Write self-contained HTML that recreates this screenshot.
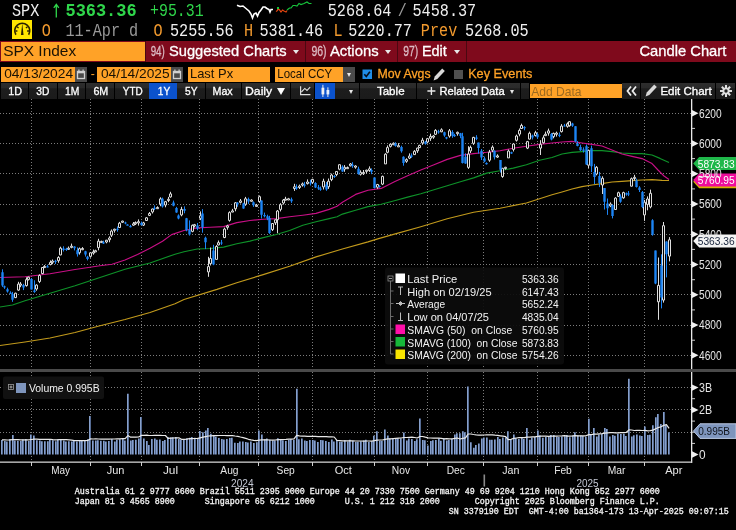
<!DOCTYPE html><html><head><meta charset="utf-8"><title>SPX Index</title><style>
html,body{margin:0;padding:0;background:#000;}
body{width:736px;height:530px;overflow:hidden;position:relative;font-family:"Liberation Sans",sans-serif;color:#fff;}
.a{position:absolute;}
.bar{position:absolute;left:0;top:41px;width:736px;height:21px;background:#7f0a1c;}
.sep{position:absolute;top:41px;width:1px;height:21px;background:#4a0811;}
.tri{position:absolute;width:0;height:0;border-left:3px solid transparent;border-right:3px solid transparent;border-top:4px solid #e8e8e8;}
.ob{position:absolute;background:#ffa227;}
.gb{position:absolute;background:#4a4a4a;}
.pb{position:absolute;top:83px;height:16px;background:linear-gradient(#2d2d2d 0,#2a2a2a 30%,#1d1d1d 36%,#1b1b1b 100%);}
.pb.sel{background:#0b52cc;}
text{white-space:pre;}
</style></head><body>
<svg class="a" style="left:0;top:0" width="330" height="22" viewBox="0 0 330 22"><path d="M56.3 17.5V4.5M53.8 7.8l2.5-3.4l2.5 3.4" fill="none" stroke="#2fd64b" stroke-width="1.3"/><polyline fill="none" stroke="#fff" stroke-width="1.6" points="237,5.3 240,6.5 243,6 246,8.5 249,11 251,14 252.5,18 254,14 256,13 257.5,16 259,12.5 261,10 263,7 265,7 267,8.5 269,9.5 270,12 271,9.5 273,9.5"/><polyline fill="none" stroke="#e0430f" stroke-width="1.2" points="276,11.5 277.5,10.5 278,8.5 279.5,10 281,12 282.5,10 284,11 286,12 287,10.5"/><polyline fill="none" stroke="#17c43c" stroke-width="1.2" points="287,10 289.5,8 291,8 293,5.5 295,5.5 297,6 299,3.5 301,4.5 304,3.5 307,2 309,3.5 311.5,3.5"/><rect x="277" y="7" width="2" height="2" fill="#17c43c"/></svg>
<div class="a" style="left:12px;top:20px;width:20px;height:19px;background:#ffe600"></div>
<svg class="a" style="left:12px;top:20px" width="20" height="19" viewBox="0 0 20 19"><path d="M3.9 14.7A7.5 7.5 0 1 1 16.6 14.7" fill="none" stroke="#2a2200" stroke-width="1.6"/><path d="M10.25 3.4L11.55 14.9H8.95z" fill="#2a2200"/><path d="M5 6.8l1.6 1.3M15.5 6.8l-1.6 1.3M3.4 11h2M17.1 11h-2" stroke="#2a2200" stroke-width="1.3"/></svg>
<div class="bar"></div>
<div class="ob" style="left:1px;top:42px;width:143.5px;height:18.6px"></div>
<div class="sep" style="left:144.5px"></div>
<div class="sep" style="left:304.5px"></div>
<div class="sep" style="left:397px"></div>
<div class="sep" style="left:466px"></div>
<div class="tri" style="left:293px;top:50px"></div>
<div class="tri" style="left:385px;top:50px"></div>
<div class="tri" style="left:453.7px;top:50px"></div>
<div class="ob" style="left:1px;top:67px;width:74px;height:15px"></div>
<svg class="a" style="left:75px;top:67px" width="12" height="15" viewBox="0 0 12 15"><rect x="0" y="0" width="12" height="15" fill="#4a4a4a"/><rect x="2.5" y="4.5" width="7" height="7" fill="none" stroke="#d0d0d0" stroke-width="1.3"/><rect x="2" y="4" width="8" height="2.3" fill="#d0d0d0"/><rect x="3.3" y="2.5" width="1.2" height="2" fill="#d0d0d0"/><rect x="7.5" y="2.5" width="1.2" height="2" fill="#d0d0d0"/></svg>
<div class="ob" style="left:96.5px;top:67px;width:74.5px;height:15px"></div>
<svg class="a" style="left:171px;top:67px" width="12" height="15" viewBox="0 0 12 15"><rect x="0" y="0" width="12" height="15" fill="#4a4a4a"/><rect x="2.5" y="4.5" width="7" height="7" fill="none" stroke="#d0d0d0" stroke-width="1.3"/><rect x="2" y="4" width="8" height="2.3" fill="#d0d0d0"/><rect x="3.3" y="2.5" width="1.2" height="2" fill="#d0d0d0"/><rect x="7.5" y="2.5" width="1.2" height="2" fill="#d0d0d0"/></svg>
<div class="ob" style="left:187.5px;top:67px;width:82.5px;height:15px"></div>
<div class="ob" style="left:275px;top:67px;width:68px;height:15px"></div>
<div class="gb" style="left:343px;top:67px;width:12px;height:15px"></div><div class="tri" style="left:346.5px;top:73px;border-left-width:2.5px;border-right-width:2.5px"></div>
<svg class="a" style="left:362px;top:69px" width="11" height="11" viewBox="0 0 11 11"><rect x="0.5" y="0.5" width="9.5" height="9.5" fill="#1f8de8"/><path d="M2.3 5.2l2 2.3l3.6-4.8" fill="none" stroke="#08101c" stroke-width="1.6"/></svg>
<svg class="a" style="left:432px;top:67px" width="14" height="15" viewBox="0 0 14 15"><path d="M1.6 13.4l1.1-3.9l7.5-8l2.6 2.6l-7.5 7.9z" fill="#d8d8d8"/></svg>
<div class="a" style="left:454px;top:70px;width:9px;height:9px;background:#505050"></div>
<div class="pb" style="left:1px;width:27px"></div>
<div class="pb" style="left:29px;width:27.5px"></div>
<div class="pb" style="left:57.5px;width:27.5px"></div>
<div class="pb" style="left:86px;width:28px"></div>
<div class="pb" style="left:115px;width:34px"></div>
<div class="pb" style="left:177px;width:28px"></div>
<div class="pb" style="left:206px;width:34.5px"></div>
<div class="pb" style="left:241.5px;width:48.5px"></div>
<div class="pb" style="left:291px;width:23px"></div>
<div class="pb" style="left:335px;width:24px"></div>
<div class="pb" style="left:360px;width:56px"></div>
<div class="pb" style="left:417px;width:103px"></div>
<div class="pb" style="left:521px;width:8px"></div>
<div class="pb" style="left:622px;width:18px"></div>
<div class="pb" style="left:641px;width:74px"></div>
<div class="pb" style="left:716px;width:19px"></div>
<div class="pb sel" style="left:149px;width:28px"></div>
<div class="pb sel" style="left:314.5px;width:20.5px"></div>
<div class="tri" style="left:277.2px;top:87.5px;border-left-width:4px;border-right-width:4px;border-top-width:7px;border-top-color:#fff"></div>
<div class="ob" style="left:529.5px;top:84px;width:92.29999999999995px;height:14px"></div>
<svg class="a" style="left:291px;top:83px" width="23" height="16" viewBox="0 0 23 16"><path d="M9.6 3.3v8.3h9.8" fill="none" stroke="#e0e0e0" stroke-width="1.2"/><path d="M10.4 9l3.4-3.6l2.2 2l3.2-3.2" fill="none" stroke="#e0e0e0" stroke-width="1.1"/></svg>
<svg class="a" style="left:314.5px;top:83px" width="21" height="16" viewBox="0 0 21 16"><path d="M7.9 1.8v12.2M12.9 4.3v9.7" stroke="#e8e8e8" stroke-width="1"/><rect x="6.5" y="4.7" width="2.8" height="6.7" fill="#f0f0f0"/><rect x="11.5" y="7" width="2.8" height="4.4" fill="#e4eefc"/></svg>
<div class="tri" style="left:348.5px;top:90px;border-left-width:2.5px;border-right-width:2.5px"></div>
<svg class="a" style="left:426px;top:86px" width="10" height="10" viewBox="0 0 10 10"><path d="M5.4 1v8M1.4 5h8" stroke="#e8e8e8" stroke-width="1.4"/></svg>
<div class="tri" style="left:510px;top:90px;border-left-width:2.5px;border-right-width:2.5px"></div>
<svg class="a" style="left:625px;top:85px" width="13" height="12" viewBox="0 0 13 12"><path d="M6 1.5L2.5 6L6 10.5M11 1.5L7.5 6L11 10.5" fill="none" stroke="#ececec" stroke-width="1.8"/></svg>
<svg class="a" style="left:644px;top:83.3px" width="14" height="15" viewBox="0 0 14 15"><path d="M1.6 13.4l1.1-3.9l7.5-8l2.6 2.6l-7.5 7.9z" fill="#d8d8d8"/></svg>
<svg class="a" style="left:719px;top:84px" width="14" height="14" viewBox="0 0 14 14"><g stroke="#e0e0e0" stroke-width="2"><path d="M7 1v12M1 7h12M2.8 2.8l8.4 8.4M11.2 2.8l-8.4 8.4"/></g><circle cx="7" cy="7" r="3.6" fill="#e0e0e0"/><circle cx="7" cy="7" r="1.7" fill="#222"/></svg>
<svg class="a" style="left:0;top:0" width="736" height="530" viewBox="0 0 736 530">
<line x1="0" x2="691" y1="355.5" y2="355.5" stroke="#7c7c7c" stroke-width="1" stroke-dasharray="1 2" shape-rendering="crispEdges"/>
<line x1="0" x2="691" y1="325.5" y2="325.5" stroke="#7c7c7c" stroke-width="1" stroke-dasharray="1 2" shape-rendering="crispEdges"/>
<line x1="0" x2="691" y1="294.5" y2="294.5" stroke="#7c7c7c" stroke-width="1" stroke-dasharray="1 2" shape-rendering="crispEdges"/>
<line x1="0" x2="691" y1="264.5" y2="264.5" stroke="#7c7c7c" stroke-width="1" stroke-dasharray="1 2" shape-rendering="crispEdges"/>
<line x1="0" x2="691" y1="234.5" y2="234.5" stroke="#7c7c7c" stroke-width="1" stroke-dasharray="1 2" shape-rendering="crispEdges"/>
<line x1="0" x2="691" y1="204.5" y2="204.5" stroke="#7c7c7c" stroke-width="1" stroke-dasharray="1 2" shape-rendering="crispEdges"/>
<line x1="0" x2="691" y1="173.5" y2="173.5" stroke="#7c7c7c" stroke-width="1" stroke-dasharray="1 2" shape-rendering="crispEdges"/>
<line x1="0" x2="691" y1="143.5" y2="143.5" stroke="#7c7c7c" stroke-width="1" stroke-dasharray="1 2" shape-rendering="crispEdges"/>
<line x1="0" x2="691" y1="113.5" y2="113.5" stroke="#7c7c7c" stroke-width="1" stroke-dasharray="1 2" shape-rendering="crispEdges"/>
<line x1="0" x2="691" y1="432.5" y2="432.5" stroke="#7c7c7c" stroke-width="1" stroke-dasharray="1 2" shape-rendering="crispEdges"/>
<line x1="0" x2="691" y1="409.5" y2="409.5" stroke="#7c7c7c" stroke-width="1" stroke-dasharray="1 2" shape-rendering="crispEdges"/>
<line x1="0" x2="691" y1="387.5" y2="387.5" stroke="#7c7c7c" stroke-width="1" stroke-dasharray="1 2" shape-rendering="crispEdges"/>
<line x1="31.5" x2="31.5" y1="99" y2="462" stroke="#7c7c7c" stroke-width="1" stroke-dasharray="1 2" shape-rendering="crispEdges"/>
<line x1="90.5" x2="90.5" y1="99" y2="462" stroke="#7c7c7c" stroke-width="1" stroke-dasharray="1 2" shape-rendering="crispEdges"/>
<line x1="141.5" x2="141.5" y1="99" y2="462" stroke="#7c7c7c" stroke-width="1" stroke-dasharray="1 2" shape-rendering="crispEdges"/>
<line x1="199.5" x2="199.5" y1="99" y2="462" stroke="#7c7c7c" stroke-width="1" stroke-dasharray="1 2" shape-rendering="crispEdges"/>
<line x1="258.5" x2="258.5" y1="99" y2="462" stroke="#7c7c7c" stroke-width="1" stroke-dasharray="1 2" shape-rendering="crispEdges"/>
<line x1="312.5" x2="312.5" y1="99" y2="462" stroke="#7c7c7c" stroke-width="1" stroke-dasharray="1 2" shape-rendering="crispEdges"/>
<line x1="374.5" x2="374.5" y1="99" y2="462" stroke="#7c7c7c" stroke-width="1" stroke-dasharray="1 2" shape-rendering="crispEdges"/>
<line x1="427.5" x2="427.5" y1="99" y2="462" stroke="#7c7c7c" stroke-width="1" stroke-dasharray="1 2" shape-rendering="crispEdges"/>
<line x1="483.5" x2="483.5" y1="99" y2="462" stroke="#7c7c7c" stroke-width="1" stroke-dasharray="1 2" shape-rendering="crispEdges"/>
<line x1="537.5" x2="537.5" y1="99" y2="462" stroke="#7c7c7c" stroke-width="1" stroke-dasharray="1 2" shape-rendering="crispEdges"/>
<line x1="588.5" x2="588.5" y1="99" y2="462" stroke="#7c7c7c" stroke-width="1" stroke-dasharray="1 2" shape-rendering="crispEdges"/>
<line x1="644.5" x2="644.5" y1="99" y2="462" stroke="#7c7c7c" stroke-width="1" stroke-dasharray="1 2" shape-rendering="crispEdges"/>
<polyline fill="none" stroke="#c29a1c" stroke-width="1.15" stroke-linejoin="round" points="0.0,345.5 25.0,342.0 50.0,338.0 75.0,332.5 100.0,325.8 125.0,319.5 150.0,312.5 175.0,303.8 184.0,299.5 217.0,289.4 236.8,282.8 263.2,274.6 289.6,266.2 316.0,256.9 342.4,249.0 368.0,241.9 378.6,238.6 394.4,234.1 420.8,226.7 447.2,218.8 473.6,212.2 500.0,208.2 526.4,203.0 552.0,194.8 562.0,192.0 572.0,189.0 582.0,186.6 592.0,185.0 602.0,183.6 612.0,182.0 622.0,181.4 632.0,180.6 642.0,180.0 652.0,179.6 662.0,180.4 669.0,180.5"/>
<polyline fill="none" stroke="#0e9229" stroke-width="1.15" stroke-linejoin="round" points="0.0,307.0 12.5,305.0 25.0,300.8 50.0,293.2 75.0,285.8 100.0,277.5 125.0,269.2 150.0,263.0 175.0,254.2 184.0,251.7 197.2,249.0 210.4,248.5 223.6,247.1 236.8,243.7 250.0,241.1 263.2,237.6 276.4,234.5 289.6,230.5 302.8,225.2 316.0,221.8 329.2,218.6 337.1,216.8 342.4,214.1 355.6,210.2 368.0,206.6 381.2,204.3 394.4,200.8 407.6,197.1 420.8,193.7 434.0,189.8 447.2,185.8 460.4,181.8 473.6,177.9 486.8,173.1 500.0,170.7 513.2,168.1 526.4,164.7 539.6,160.2 552.0,157.5 562.0,154.0 572.0,152.4 582.0,151.6 592.0,150.6 602.0,150.6 612.0,151.6 622.0,153.0 632.0,153.6 642.0,153.6 652.0,155.0 660.0,158.4 669.0,162.5"/>
<polyline fill="none" stroke="#c80f86" stroke-width="1.15" stroke-linejoin="round" points="0.0,277.5 25.0,276.8 50.0,273.8 75.0,269.5 100.0,265.8 112.0,264.2 125.0,260.0 137.5,254.5 150.0,248.2 162.5,241.2 171.6,234.6 184.0,230.5 197.2,227.9 210.4,227.3 223.6,226.6 236.8,222.6 250.0,220.5 263.2,219.2 276.4,218.6 289.6,216.8 302.8,215.2 316.0,213.4 329.2,209.4 337.1,206.2 342.4,202.3 355.6,194.4 368.0,190.3 381.2,188.4 394.4,181.8 407.6,175.8 420.8,170.0 434.0,164.7 447.2,159.4 460.4,155.4 473.6,153.6 486.8,152.3 500.0,150.7 513.2,148.3 526.4,146.2 539.6,144.4 552.0,143.0 562.0,142.0 572.0,141.4 582.0,143.0 592.0,144.4 602.0,146.0 612.0,150.0 622.0,154.0 632.0,156.4 642.0,158.6 652.0,163.6 658.0,170.0 664.0,176.0 669.0,179.5"/>
<path d="M15.5 292.7V298.1M18.5 281.8V290.8M20.5 282.1V287.2M26.5 277.3V286.6M28.5 276.6V280.5M36.5 284.3V290.7M39.5 274.3V283.1M42.5 267.0V274.3M44.5 265.1V267.8M50.5 260.4V265.4M52.5 259.5V264.2M58.5 256.2V262.8M60.5 246.7V255.3M68.5 246.5V249.9M71.5 243.6V248.3M79.5 247.5V254.6M82.5 247.1V250.2M90.5 252.3V257.7M93.5 249.5V254.7M95.5 249.7V252.1M98.5 238.8V250.3M101.5 240.7V242.8M106.5 239.9V243.3M109.5 236.3V242.3M111.5 229.5V237.0M114.5 228.7V232.6M119.5 221.9V228.0M122.5 220.7V222.7M133.5 222.0V225.9M135.5 221.4V225.0M138.5 219.4V225.6M143.5 221.8V226.0M146.5 217.1V220.9M149.5 212.0V216.1M152.5 208.6V213.5M157.5 206.3V209.0M160.5 197.3V206.2M165.5 200.9V207.3M168.5 196.9V202.2M170.5 191.8V197.7M181.5 206.8V216.3M192.5 224.5V232.3M194.5 223.9V227.5M200.5 211.4V220.1M208.5 256.8V276.8M210.5 247.5V265.5M216.5 245.2V259.4M218.5 240.5V245.4M224.5 227.6V238.2M227.5 224.8V229.7M229.5 211.3V221.7M232.5 208.9V211.9M235.5 202.1V211.3M240.5 199.0V203.5M245.5 196.9V205.8M251.5 199.3V201.3M256.5 203.9V206.3M259.5 195.5V202.9M272.5 223.2V231.0M275.5 219.5V225.0M277.5 210.0V233.2M280.5 203.2V211.4M283.5 199.0V204.5M285.5 196.8V200.2M288.5 197.9V199.8M294.5 183.8V190.9M299.5 184.6V189.0M302.5 182.5V186.6M307.5 179.4V184.5M312.5 178.8V183.9M323.5 178.7V189.5M328.5 178.5V188.9M331.5 173.6V181.2M336.5 171.1V176.2M339.5 164.4V170.3M344.5 165.1V171.8M347.5 166.5V168.5M350.5 163.0V166.4M355.5 165.3V168.7M360.5 170.3V175.6M363.5 170.0V175.0M366.5 169.7V173.5M369.5 166.4V171.9M377.5 183.9V188.8M382.5 175.6V185.1M385.5 153.2V163.9M387.5 145.4V153.3M390.5 143.4V147.5M393.5 142.4V145.1M398.5 143.1V146.5M406.5 158.3V162.8M409.5 153.4V159.1M414.5 150.1V155.0M417.5 147.7V152.9M419.5 144.7V148.1M422.5 137.8V144.9M427.5 137.9V143.4M430.5 133.7V140.9M433.5 135.1V138.8M435.5 129.2V134.7M441.5 128.3V132.2M449.5 129.0V137.7M457.5 131.6V135.7M468.5 146.2V168.9M470.5 145.6V153.0M473.5 136.8V144.9M489.5 149.9V161.8M492.5 145.4V152.2M497.5 154.3V157.9M502.5 167.9V177.8M505.5 166.8V169.7M508.5 149.5V157.8M513.5 143.2V151.5M516.5 134.6V141.6M519.5 128.5V136.3M521.5 123.7V129.0M527.5 140.9V149.1M529.5 131.6V139.4M535.5 130.8V136.5M540.5 140.2V155.0M543.5 135.3V143.5M545.5 131.6V136.0M548.5 128.6V135.7M553.5 132.6V138.3M556.5 131.6V136.6M561.5 124.1V132.5M567.5 122.4V127.7M569.5 121.2V126.7M588.5 149.6V168.1M596.5 166.1V175.3M602.5 176.3V194.0M610.5 202.4V207.1M615.5 197.2V209.5M618.5 191.7V196.8M623.5 191.7V198.7M631.5 177.5V186.2M634.5 174.8V180.5M644.5 199.9V220.9M647.5 196.4V210.3M650.5 189.6V208.3M658.5 257.5V319.8M663.5 222.0V302.6M669.5 237.1V261.4" stroke="#dedede" stroke-width="1" fill="none"/>
<path d="M2.5 269.3V286.9M4.5 285.6V288.9M7.5 287.7V292.6M10.5 291.3V293.5M12.5 291.9V301.8M23.5 283.8V290.1M31.5 278.0V289.5M34.5 280.3V292.8M47.5 264.8V267.4M55.5 259.8V264.0M63.5 246.3V251.5M66.5 247.8V250.9M74.5 246.2V250.4M77.5 247.4V256.6M85.5 250.8V256.6M87.5 255.8V260.4M103.5 240.7V244.0M117.5 226.4V231.7M125.5 221.7V224.3M127.5 224.2V225.2M130.5 224.9V227.4M141.5 221.5V225.6M154.5 205.4V210.1M162.5 197.6V207.6M173.5 200.6V206.3M176.5 206.9V212.8M178.5 214.4V219.3M184.5 206.4V213.3M186.5 217.9V231.3M189.5 220.4V235.6M197.5 223.0V230.2M202.5 209.1V232.7M205.5 236.7V249.1M213.5 244.8V265.2M221.5 239.9V244.9M237.5 202.1V206.8M243.5 202.8V208.8M248.5 197.6V203.9M253.5 201.4V206.9M261.5 200.4V218.5M264.5 212.6V217.4M267.5 214.7V220.2M269.5 215.8V233.9M291.5 197.6V202.9M296.5 184.4V189.9M304.5 181.9V187.5M310.5 179.7V185.5M315.5 182.2V188.0M318.5 185.0V189.9M320.5 186.5V190.8M326.5 182.0V190.8M334.5 175.1V177.9M342.5 165.3V171.9M352.5 162.2V167.9M358.5 166.7V174.7M371.5 168.4V174.2M374.5 177.5V188.5M379.5 185.3V187.7M395.5 142.2V146.7M401.5 145.7V152.7M403.5 156.3V165.7M411.5 153.4V157.9M425.5 140.9V144.7M438.5 129.8V133.7M444.5 131.7V136.8M446.5 136.9V139.3M452.5 130.2V137.8M454.5 133.8V136.9M460.5 132.9V138.2M462.5 132.8V163.5M465.5 153.3V163.8M476.5 135.2V140.1M478.5 142.6V153.6M481.5 149.0V160.0M484.5 156.6V162.3M486.5 162.3V164.6M494.5 150.4V159.5M500.5 160.1V172.6M511.5 151.7V153.9M524.5 126.2V130.3M532.5 134.6V139.5M537.5 132.9V138.8M551.5 133.0V140.4M559.5 132.4V137.2M564.5 123.9V126.5M572.5 122.8V126.9M575.5 126.1V142.2M577.5 141.1V146.3M580.5 144.7V150.9M583.5 147.4V152.6M586.5 144.5V164.9M591.5 145.6V172.1M594.5 163.9V184.0M599.5 171.9V187.1M604.5 188.1V209.5M607.5 198.5V214.9M612.5 204.4V218.4M620.5 194.3V202.8M626.5 192.5V195.7M628.5 191.0V196.1M636.5 178.6V187.5M639.5 186.2V192.0M642.5 191.0V208.2M652.5 219.2V235.7M655.5 250.6V284.2M661.5 254.3V308.4M666.5 241.4V277.4" stroke="#1c84f4" stroke-width="1" fill="none"/>
<path d="M14.5 293.2h2v4.4h-2zM17.5 284.1h2v6.0h-2zM19.5 284.0h2v1.2h-2zM25.5 279.7h2v5.9h-2zM27.5 277.2h2v2.2h-2zM35.5 285.1h2v3.9h-2zM38.5 275.5h2v6.0h-2zM41.5 267.5h2v6.0h-2zM43.5 266.4h2v1.2h-2zM49.5 262.4h2v2.1h-2zM51.5 261.1h2v1.2h-2zM57.5 257.5h2v3.2h-2zM59.5 248.2h2v6.7h-2zM67.5 248.2h2v1.2h-2zM70.5 246.2h2v1.2h-2zM78.5 248.7h2v4.0h-2zM81.5 248.5h2v1.2h-2zM89.5 252.8h2v3.5h-2zM92.5 251.9h2v1.2h-2zM94.5 250.7h2v1.2h-2zM97.5 241.2h2v6.4h-2zM100.5 241.4h2v1.2h-2zM105.5 240.2h2v1.8h-2zM108.5 238.0h2v1.7h-2zM110.5 231.1h2v4.1h-2zM113.5 229.2h2v1.2h-2zM118.5 223.2h2v4.3h-2zM121.5 221.1h2v1.2h-2zM132.5 223.8h2v1.4h-2zM134.5 222.5h2v1.3h-2zM137.5 221.7h2v1.2h-2zM142.5 222.9h2v2.2h-2zM145.5 217.8h2v2.7h-2zM148.5 213.5h2v1.9h-2zM151.5 209.0h2v2.9h-2zM156.5 207.5h2v1.2h-2zM159.5 198.9h2v5.1h-2zM164.5 201.7h2v3.3h-2zM167.5 199.3h2v1.2h-2zM169.5 193.9h2v3.0h-2zM180.5 209.4h2v5.5h-2zM191.5 225.3h2v6.1h-2zM193.5 224.7h2v1.2h-2zM199.5 215.8h2v2.5h-2zM207.5 266.6h2v5.3h-2zM209.5 258.5h2v5.1h-2zM215.5 246.5h2v12.9h-2zM217.5 242.7h2v2.2h-2zM223.5 229.1h2v8.4h-2zM226.5 225.9h2v1.5h-2zM228.5 212.6h2v7.8h-2zM231.5 210.9h2v1.2h-2zM234.5 202.8h2v6.0h-2zM239.5 200.9h2v1.5h-2zM244.5 198.8h2v5.4h-2zM250.5 200.1h2v1.2h-2zM255.5 205.2h2v1.2h-2zM258.5 196.7h2v4.8h-2zM271.5 223.5h2v6.1h-2zM274.5 219.8h2v3.0h-2zM276.5 211.0h2v8.7h-2zM279.5 204.7h2v4.7h-2zM282.5 200.1h2v2.9h-2zM284.5 199.0h2v1.2h-2zM287.5 198.8h2v1.2h-2zM293.5 186.8h2v1.7h-2zM298.5 186.1h2v1.4h-2zM301.5 183.9h2v1.2h-2zM306.5 182.0h2v1.6h-2zM311.5 179.4h2v3.0h-2zM322.5 181.2h2v5.7h-2zM327.5 181.2h2v5.5h-2zM330.5 175.0h2v4.6h-2zM335.5 171.5h2v3.0h-2zM338.5 164.7h2v4.5h-2zM343.5 167.3h2v1.8h-2zM346.5 167.5h2v1.2h-2zM349.5 164.0h2v1.8h-2zM354.5 166.0h2v1.2h-2zM359.5 172.3h2v2.0h-2zM362.5 172.5h2v1.2h-2zM365.5 170.2h2v1.2h-2zM368.5 168.8h2v1.7h-2zM376.5 184.5h2v2.7h-2zM381.5 176.4h2v7.7h-2zM384.5 154.2h2v9.7h-2zM386.5 147.6h2v4.7h-2zM389.5 144.2h2v2.2h-2zM392.5 143.3h2v1.4h-2zM397.5 145.7h2v1.2h-2zM405.5 159.6h2v1.7h-2zM408.5 156.1h2v2.0h-2zM413.5 151.3h2v3.3h-2zM416.5 148.1h2v2.7h-2zM418.5 145.4h2v2.2h-2zM421.5 140.2h2v2.7h-2zM426.5 138.6h2v3.4h-2zM429.5 136.4h2v1.9h-2zM432.5 136.0h2v1.2h-2zM434.5 130.4h2v3.9h-2zM440.5 129.8h2v2.0h-2zM448.5 130.8h2v5.3h-2zM456.5 132.3h2v1.4h-2zM467.5 154.0h2v13.4h-2zM469.5 147.4h2v3.5h-2zM472.5 137.4h2v5.9h-2zM488.5 152.2h2v8.0h-2zM491.5 147.2h2v3.0h-2zM496.5 155.9h2v1.2h-2zM501.5 168.3h2v8.2h-2zM504.5 167.3h2v1.2h-2zM507.5 151.1h2v6.8h-2zM512.5 144.0h2v5.4h-2zM515.5 136.0h2v4.3h-2zM518.5 130.4h2v3.7h-2zM520.5 125.5h2v3.0h-2zM526.5 141.6h2v6.5h-2zM528.5 133.3h2v5.8h-2zM534.5 132.7h2v2.8h-2zM539.5 144.3h2v3.8h-2zM542.5 137.8h2v5.0h-2zM544.5 134.2h2v1.5h-2zM547.5 130.9h2v2.2h-2zM552.5 133.4h2v3.2h-2zM555.5 133.1h2v1.2h-2zM560.5 126.1h2v5.5h-2zM566.5 123.9h2v2.4h-2zM568.5 121.7h2v4.0h-2zM587.5 150.4h2v14.8h-2zM595.5 167.3h2v6.7h-2zM601.5 178.3h2v6.7h-2zM609.5 204.1h2v1.8h-2zM614.5 198.1h2v11.4h-2zM617.5 192.7h2v3.7h-2zM622.5 192.6h2v5.2h-2zM630.5 178.7h2v7.5h-2zM633.5 177.3h2v1.2h-2zM643.5 202.2h2v12.7h-2zM646.5 199.0h2v5.4h-2zM649.5 193.3h2v13.6h-2zM657.5 285.4h2v16.4h-2zM662.5 225.7h2v74.4h-2zM668.5 239.8h2v16.3h-2z" stroke="#dedede" stroke-width="1" fill="#000"/>
<path d="M1.3 272.2h2.4v13.3h-2.4zM3.3 286.3h2.4v1.2h-2.4zM6.3 289.3h2.4v2.1h-2.4zM9.3 292.8h2.4v1.2h-2.4zM11.3 294.0h2.4v5.8h-2.4zM22.3 285.1h2.4v2.4h-2.4zM30.3 279.1h2.4v10.3h-2.4zM33.3 290.4h2.4v1.6h-2.4zM46.3 266.2h2.4v1.2h-2.4zM54.3 260.8h2.4v1.2h-2.4zM62.3 248.5h2.4v1.4h-2.4zM65.3 248.8h2.4v1.2h-2.4zM73.3 246.6h2.4v1.7h-2.4zM76.3 250.2h2.4v4.1h-2.4zM84.3 251.3h2.4v3.1h-2.4zM86.3 256.7h2.4v2.4h-2.4zM102.3 242.2h2.4v1.2h-2.4zM116.3 228.8h2.4v1.2h-2.4zM124.3 222.4h2.4v1.2h-2.4zM126.3 224.5h2.4v1.2h-2.4zM129.3 226.1h2.4v1.2h-2.4zM140.3 223.0h2.4v2.1h-2.4zM153.3 207.8h2.4v1.2h-2.4zM161.3 198.7h2.4v7.7h-2.4zM172.3 202.5h2.4v3.3h-2.4zM175.3 208.1h2.4v4.3h-2.4zM177.3 215.4h2.4v3.0h-2.4zM183.3 209.1h2.4v1.6h-2.4zM185.3 218.3h2.4v11.9h-2.4zM188.3 229.9h2.4v4.5h-2.4zM196.3 225.4h2.4v3.4h-2.4zM201.3 213.4h2.4v13.8h-2.4zM204.3 237.8h2.4v4.5h-2.4zM212.3 250.4h2.4v14.2h-2.4zM220.3 242.4h2.4v1.2h-2.4zM236.3 202.8h2.4v1.7h-2.4zM242.3 203.4h2.4v5.0h-2.4zM247.3 198.9h2.4v2.5h-2.4zM252.3 202.3h2.4v2.9h-2.4zM260.3 200.4h2.4v14.4h-2.4zM263.3 215.1h2.4v1.2h-2.4zM266.3 216.2h2.4v2.4h-2.4zM268.3 218.0h2.4v15.0h-2.4zM290.3 199.2h2.4v2.1h-2.4zM295.3 186.9h2.4v1.6h-2.4zM303.3 184.5h2.4v1.2h-2.4zM309.3 182.3h2.4v1.2h-2.4zM314.3 183.1h2.4v4.5h-2.4zM317.3 187.2h2.4v1.2h-2.4zM319.3 188.6h2.4v1.2h-2.4zM325.3 184.6h2.4v4.9h-2.4zM333.3 175.9h2.4v1.2h-2.4zM341.3 166.8h2.4v4.6h-2.4zM351.3 164.7h2.4v1.2h-2.4zM357.3 168.7h2.4v5.4h-2.4zM370.3 170.1h2.4v1.6h-2.4zM373.3 177.5h2.4v10.6h-2.4zM378.3 185.9h2.4v1.2h-2.4zM394.3 143.8h2.4v2.1h-2.4zM400.3 147.1h2.4v4.1h-2.4zM402.3 156.7h2.4v6.4h-2.4zM410.3 155.5h2.4v1.2h-2.4zM424.3 141.8h2.4v1.9h-2.4zM437.3 131.2h2.4v1.2h-2.4zM443.3 132.3h2.4v3.3h-2.4zM445.3 137.3h2.4v1.2h-2.4zM451.3 132.1h2.4v3.7h-2.4zM453.3 135.1h2.4v1.2h-2.4zM459.3 133.3h2.4v2.6h-2.4zM461.3 136.3h2.4v26.6h-2.4zM464.3 156.7h2.4v6.9h-2.4zM475.3 137.6h2.4v1.2h-2.4zM477.3 142.6h2.4v5.3h-2.4zM480.3 150.7h2.4v6.9h-2.4zM483.3 158.6h2.4v2.8h-2.4zM485.3 163.0h2.4v1.2h-2.4zM493.3 150.8h2.4v6.5h-2.4zM499.3 160.1h2.4v9.6h-2.4zM510.3 152.2h2.4v1.2h-2.4zM523.3 127.1h2.4v1.2h-2.4zM531.3 135.6h2.4v2.0h-2.4zM536.3 134.3h2.4v3.0h-2.4zM550.3 134.0h2.4v5.6h-2.4zM558.3 134.7h2.4v1.2h-2.4zM563.3 125.4h2.4v1.2h-2.4zM571.3 123.5h2.4v2.3h-2.4zM574.3 126.2h2.4v15.3h-2.4zM576.3 143.4h2.4v2.6h-2.4zM579.3 147.1h2.4v3.2h-2.4zM582.3 149.5h2.4v1.2h-2.4zM585.3 146.2h2.4v18.2h-2.4zM590.3 148.3h2.4v17.9h-2.4zM593.3 171.9h2.4v5.1h-2.4zM598.3 175.9h2.4v7.2h-2.4zM603.3 188.1h2.4v13.7h-2.4zM606.3 203.5h2.4v4.8h-2.4zM611.3 204.9h2.4v11.0h-2.4zM619.3 196.6h2.4v5.2h-2.4zM625.3 193.3h2.4v1.2h-2.4zM627.3 193.4h2.4v1.2h-2.4zM635.3 180.6h2.4v6.4h-2.4zM638.3 187.6h2.4v2.3h-2.4zM641.3 192.0h2.4v14.9h-2.4zM651.3 220.2h2.4v14.6h-2.4zM654.3 250.6h2.4v33.0h-2.4zM660.3 265.5h2.4v31.9h-2.4zM665.3 241.4h2.4v12.9h-2.4z" fill="#1c84f4"/>
<path d="M1 454.5v-14.6h1v14.6zM4 454.5v-13.5h1v13.5zM6 454.5v-12.9h1v12.9zM9 454.5v-15.4h1v15.4zM12 454.5v-19.4h1v19.4zM14 454.5v-14.1h1v14.1zM17 454.5v-13.7h1v13.7zM20 454.5v-13.6h1v13.6zM22 454.5v-14.9h1v14.9zM25 454.5v-15.5h1v15.5zM28 454.5v-13.5h1v13.5zM30 454.5v-20.1h1v20.1zM33 454.5v-19.0h1v19.0zM36 454.5v-14.3h1v14.3zM39 454.5v-13.9h1v13.9zM41 454.5v-13.2h1v13.2zM44 454.5v-13.2h1v13.2zM47 454.5v-13.3h1v13.3zM49 454.5v-15.3h1v15.3zM52 454.5v-14.2h1v14.2zM55 454.5v-13.3h1v13.3zM57 454.5v-15.3h1v15.3zM60 454.5v-15.6h1v15.6zM63 454.5v-14.0h1v14.0zM65 454.5v-13.1h1v13.1zM68 454.5v-13.3h1v13.3zM71 454.5v-13.0h1v13.0zM73 454.5v-13.7h1v13.7zM76 454.5v-13.0h1v13.0zM79 454.5v-13.4h1v13.4zM81 454.5v-13.5h1v13.5zM84 454.5v-14.4h1v14.4zM87 454.5v-15.3h1v15.3zM89 454.5v-38.4h1v38.4zM92 454.5v-13.9h1v13.9zM95 454.5v-13.9h1v13.9zM97 454.5v-14.2h1v14.2zM100 454.5v-13.8h1v13.8zM103 454.5v-13.7h1v13.7zM105 454.5v-12.9h1v12.9zM108 454.5v-13.5h1v13.5zM111 454.5v-15.5h1v15.5zM114 454.5v-13.1h1v13.1zM116 454.5v-14.8h1v14.8zM119 454.5v-15.2h1v15.2zM122 454.5v-15.9h1v15.9zM124 454.5v-14.0h1v14.0zM127 454.5v-60.7h1v60.7zM130 454.5v-14.1h1v14.1zM132 454.5v-14.5h1v14.5zM135 454.5v-14.7h1v14.7zM138 454.5v-16.1h1v16.1zM140 454.5v-37.5h1v37.5zM143 454.5v-15.9h1v15.9zM146 454.5v-13.4h1v13.4zM148 454.5v-9.4h1v9.4zM151 454.5v-15.4h1v15.4zM154 454.5v-16.0h1v16.0zM156 454.5v-14.8h1v14.8zM159 454.5v-15.1h1v15.1zM162 454.5v-13.4h1v13.4zM164 454.5v-14.5h1v14.5zM167 454.5v-17.4h1v17.4zM170 454.5v-17.1h1v17.1zM172 454.5v-17.2h1v17.2zM175 454.5v-17.5h1v17.5zM178 454.5v-15.4h1v15.4zM180 454.5v-15.0h1v15.0zM183 454.5v-15.2h1v15.2zM186 454.5v-16.2h1v16.2zM189 454.5v-16.7h1v16.7zM191 454.5v-17.4h1v17.4zM194 454.5v-16.8h1v16.8zM197 454.5v-16.6h1v16.6zM199 454.5v-23.4h1v23.4zM202 454.5v-22.3h1v22.3zM205 454.5v-24.1h1v24.1zM207 454.5v-26.5h1v26.5zM210 454.5v-20.7h1v20.7zM213 454.5v-19.0h1v19.0zM215 454.5v-17.8h1v17.8zM218 454.5v-16.6h1v16.6zM221 454.5v-15.6h1v15.6zM223 454.5v-15.1h1v15.1zM226 454.5v-15.4h1v15.4zM229 454.5v-16.6h1v16.6zM231 454.5v-16.7h1v16.7zM234 454.5v-11.7h1v11.7zM237 454.5v-11.6h1v11.6zM239 454.5v-12.9h1v12.9zM242 454.5v-13.1h1v13.1zM245 454.5v-12.5h1v12.5zM247 454.5v-12.0h1v12.0zM250 454.5v-13.1h1v13.1zM253 454.5v-11.4h1v11.4zM256 454.5v-12.2h1v12.2zM258 454.5v-24.1h1v24.1zM261 454.5v-20.1h1v20.1zM264 454.5v-15.2h1v15.2zM266 454.5v-15.9h1v15.9zM269 454.5v-14.8h1v14.8zM272 454.5v-14.1h1v14.1zM274 454.5v-14.1h1v14.1zM277 454.5v-16.2h1v16.2zM280 454.5v-15.4h1v15.4zM282 454.5v-14.3h1v14.3zM285 454.5v-13.4h1v13.4zM288 454.5v-14.8h1v14.8zM290 454.5v-15.3h1v15.3zM293 454.5v-14.6h1v14.6zM296 454.5v-65.8h1v65.8zM298 454.5v-15.3h1v15.3zM301 454.5v-16.1h1v16.1zM304 454.5v-14.0h1v14.0zM306 454.5v-13.5h1v13.5zM309 454.5v-14.4h1v14.4zM312 454.5v-14.6h1v14.6zM314 454.5v-14.0h1v14.0zM317 454.5v-12.6h1v12.6zM320 454.5v-14.4h1v14.4zM322 454.5v-14.2h1v14.2zM325 454.5v-13.5h1v13.5zM328 454.5v-12.6h1v12.6zM331 454.5v-14.9h1v14.9zM333 454.5v-12.9h1v12.9zM336 454.5v-14.4h1v14.4zM339 454.5v-12.7h1v12.7zM341 454.5v-12.7h1v12.7zM344 454.5v-14.2h1v14.2zM347 454.5v-12.9h1v12.9zM349 454.5v-14.8h1v14.8zM352 454.5v-13.5h1v13.5zM355 454.5v-12.6h1v12.6zM357 454.5v-12.7h1v12.7zM360 454.5v-13.3h1v13.3zM363 454.5v-14.0h1v14.0zM365 454.5v-14.8h1v14.8zM368 454.5v-12.5h1v12.5zM371 454.5v-13.2h1v13.2zM373 454.5v-18.7h1v18.7zM376 454.5v-23.2h1v23.2zM379 454.5v-13.8h1v13.8zM381 454.5v-13.5h1v13.5zM384 454.5v-25.0h1v25.0zM387 454.5v-19.0h1v19.0zM389 454.5v-16.0h1v16.0zM392 454.5v-15.9h1v15.9zM395 454.5v-15.5h1v15.5zM397 454.5v-16.3h1v16.3zM400 454.5v-16.1h1v16.1zM403 454.5v-22.1h1v22.1zM406 454.5v-13.9h1v13.9zM408 454.5v-16.1h1v16.1zM411 454.5v-15.5h1v15.5zM414 454.5v-13.5h1v13.5zM416 454.5v-15.3h1v15.3zM419 454.5v-36.1h1v36.1zM422 454.5v-14.5h1v14.5zM424 454.5v-14.3h1v14.3zM427 454.5v-8.9h1v8.9zM430 454.5v-13.4h1v13.4zM432 454.5v-14.2h1v14.2zM435 454.5v-14.4h1v14.4zM438 454.5v-16.2h1v16.2zM440 454.5v-13.7h1v13.7zM443 454.5v-16.2h1v16.2zM446 454.5v-14.0h1v14.0zM448 454.5v-14.4h1v14.4zM451 454.5v-15.8h1v15.8zM454 454.5v-20.1h1v20.1zM456 454.5v-21.2h1v21.2zM459 454.5v-21.2h1v21.2zM462 454.5v-23.2h1v23.2zM464 454.5v-22.3h1v22.3zM467 454.5v-68.0h1v68.0zM470 454.5v-12.3h1v12.3zM473 454.5v-6.7h1v6.7zM475 454.5v-9.4h1v9.4zM478 454.5v-11.1h1v11.1zM481 454.5v-15.9h1v15.9zM483 454.5v-17.1h1v17.1zM486 454.5v-16.9h1v16.9zM489 454.5v-14.8h1v14.8zM491 454.5v-14.8h1v14.8zM494 454.5v-14.9h1v14.9zM497 454.5v-17.4h1v17.4zM499 454.5v-15.5h1v15.5zM502 454.5v-16.9h1v16.9zM505 454.5v-17.3h1v17.3zM507 454.5v-23.2h1v23.2zM510 454.5v-15.5h1v15.5zM513 454.5v-20.1h1v20.1zM515 454.5v-16.5h1v16.5zM518 454.5v-15.5h1v15.5zM521 454.5v-16.8h1v16.8zM523 454.5v-15.6h1v15.6zM526 454.5v-26.5h1v26.5zM529 454.5v-14.7h1v14.7zM531 454.5v-16.9h1v16.9zM534 454.5v-17.4h1v17.4zM537 454.5v-24.1h1v24.1zM539 454.5v-19.0h1v19.0zM542 454.5v-16.8h1v16.8zM545 454.5v-17.4h1v17.4zM548 454.5v-18.1h1v18.1zM550 454.5v-19.5h1v19.5zM553 454.5v-19.5h1v19.5zM556 454.5v-17.8h1v17.8zM558 454.5v-17.5h1v17.5zM561 454.5v-18.0h1v18.0zM564 454.5v-18.2h1v18.2zM566 454.5v-19.4h1v19.4zM569 454.5v-17.3h1v17.3zM572 454.5v-19.1h1v19.1zM574 454.5v-22.3h1v22.3zM577 454.5v-19.1h1v19.1zM580 454.5v-19.0h1v19.0zM582 454.5v-18.5h1v18.5zM585 454.5v-17.7h1v17.7zM588 454.5v-35.7h1v35.7zM590 454.5v-20.1h1v20.1zM593 454.5v-26.5h1v26.5zM596 454.5v-18.1h1v18.1zM598 454.5v-20.1h1v20.1zM601 454.5v-20.5h1v20.5zM604 454.5v-26.5h1v26.5zM606 454.5v-25.6h1v25.6zM609 454.5v-17.9h1v17.9zM612 454.5v-19.4h1v19.4zM614 454.5v-18.8h1v18.8zM617 454.5v-20.7h1v20.7zM620 454.5v-20.4h1v20.4zM623 454.5v-20.7h1v20.7zM625 454.5v-18.6h1v18.6zM628 454.5v-75.8h1v75.8zM631 454.5v-18.1h1v18.1zM633 454.5v-19.3h1v19.3zM636 454.5v-19.9h1v19.9zM639 454.5v-19.1h1v19.1zM641 454.5v-18.5h1v18.5zM644 454.5v-27.9h1v27.9zM647 454.5v-19.6h1v19.6zM649 454.5v-19.8h1v19.8zM652 454.5v-29.2h1v29.2zM655 454.5v-37.2h1v37.2zM657 454.5v-40.4h1v40.4zM660 454.5v-30.6h1v30.6zM663 454.5v-42.6h1v42.6zM665 454.5v-29.2h1v29.2zM668 454.5v-22.2h1v22.2z" fill="#87a0cb"/>
<path d="M2 454.5v-14.6h1v14.6zM5 454.5v-13.5h1v13.5zM7 454.5v-12.9h1v12.9zM10 454.5v-15.4h1v15.4zM13 454.5v-19.4h1v19.4zM15 454.5v-14.1h1v14.1zM18 454.5v-13.7h1v13.7zM21 454.5v-13.6h1v13.6zM23 454.5v-14.9h1v14.9zM26 454.5v-15.5h1v15.5zM29 454.5v-13.5h1v13.5zM31 454.5v-20.1h1v20.1zM34 454.5v-19.0h1v19.0zM37 454.5v-14.3h1v14.3zM40 454.5v-13.9h1v13.9zM42 454.5v-13.2h1v13.2zM45 454.5v-13.2h1v13.2zM48 454.5v-13.3h1v13.3zM50 454.5v-15.3h1v15.3zM53 454.5v-14.2h1v14.2zM56 454.5v-13.3h1v13.3zM58 454.5v-15.3h1v15.3zM61 454.5v-15.6h1v15.6zM64 454.5v-14.0h1v14.0zM66 454.5v-13.1h1v13.1zM69 454.5v-13.3h1v13.3zM72 454.5v-13.0h1v13.0zM74 454.5v-13.7h1v13.7zM77 454.5v-13.0h1v13.0zM80 454.5v-13.4h1v13.4zM82 454.5v-13.5h1v13.5zM85 454.5v-14.4h1v14.4zM88 454.5v-15.3h1v15.3zM90 454.5v-38.4h1v38.4zM93 454.5v-13.9h1v13.9zM96 454.5v-13.9h1v13.9zM98 454.5v-14.2h1v14.2zM101 454.5v-13.8h1v13.8zM104 454.5v-13.7h1v13.7zM106 454.5v-12.9h1v12.9zM109 454.5v-13.5h1v13.5zM112 454.5v-15.5h1v15.5zM115 454.5v-13.1h1v13.1zM117 454.5v-14.8h1v14.8zM120 454.5v-15.2h1v15.2zM123 454.5v-15.9h1v15.9zM125 454.5v-14.0h1v14.0zM128 454.5v-60.7h1v60.7zM131 454.5v-14.1h1v14.1zM133 454.5v-14.5h1v14.5zM136 454.5v-14.7h1v14.7zM139 454.5v-16.1h1v16.1zM141 454.5v-37.5h1v37.5zM144 454.5v-15.9h1v15.9zM147 454.5v-13.4h1v13.4zM149 454.5v-9.4h1v9.4zM152 454.5v-15.4h1v15.4zM155 454.5v-16.0h1v16.0zM157 454.5v-14.8h1v14.8zM160 454.5v-15.1h1v15.1zM163 454.5v-13.4h1v13.4zM165 454.5v-14.5h1v14.5zM168 454.5v-17.4h1v17.4zM171 454.5v-17.1h1v17.1zM173 454.5v-17.2h1v17.2zM176 454.5v-17.5h1v17.5zM179 454.5v-15.4h1v15.4zM181 454.5v-15.0h1v15.0zM184 454.5v-15.2h1v15.2zM187 454.5v-16.2h1v16.2zM190 454.5v-16.7h1v16.7zM192 454.5v-17.4h1v17.4zM195 454.5v-16.8h1v16.8zM198 454.5v-16.6h1v16.6zM200 454.5v-23.4h1v23.4zM203 454.5v-22.3h1v22.3zM206 454.5v-24.1h1v24.1zM208 454.5v-26.5h1v26.5zM211 454.5v-20.7h1v20.7zM214 454.5v-19.0h1v19.0zM216 454.5v-17.8h1v17.8zM219 454.5v-16.6h1v16.6zM222 454.5v-15.6h1v15.6zM224 454.5v-15.1h1v15.1zM227 454.5v-15.4h1v15.4zM230 454.5v-16.6h1v16.6zM232 454.5v-16.7h1v16.7zM235 454.5v-11.7h1v11.7zM238 454.5v-11.6h1v11.6zM240 454.5v-12.9h1v12.9zM243 454.5v-13.1h1v13.1zM246 454.5v-12.5h1v12.5zM248 454.5v-12.0h1v12.0zM251 454.5v-13.1h1v13.1zM254 454.5v-11.4h1v11.4zM257 454.5v-12.2h1v12.2zM259 454.5v-24.1h1v24.1zM262 454.5v-20.1h1v20.1zM265 454.5v-15.2h1v15.2zM267 454.5v-15.9h1v15.9zM270 454.5v-14.8h1v14.8zM273 454.5v-14.1h1v14.1zM275 454.5v-14.1h1v14.1zM278 454.5v-16.2h1v16.2zM281 454.5v-15.4h1v15.4zM283 454.5v-14.3h1v14.3zM286 454.5v-13.4h1v13.4zM289 454.5v-14.8h1v14.8zM291 454.5v-15.3h1v15.3zM294 454.5v-14.6h1v14.6zM297 454.5v-65.8h1v65.8zM299 454.5v-15.3h1v15.3zM302 454.5v-16.1h1v16.1zM305 454.5v-14.0h1v14.0zM307 454.5v-13.5h1v13.5zM310 454.5v-14.4h1v14.4zM313 454.5v-14.6h1v14.6zM315 454.5v-14.0h1v14.0zM318 454.5v-12.6h1v12.6zM321 454.5v-14.4h1v14.4zM323 454.5v-14.2h1v14.2zM326 454.5v-13.5h1v13.5zM329 454.5v-12.6h1v12.6zM332 454.5v-14.9h1v14.9zM334 454.5v-12.9h1v12.9zM337 454.5v-14.4h1v14.4zM340 454.5v-12.7h1v12.7zM342 454.5v-12.7h1v12.7zM345 454.5v-14.2h1v14.2zM348 454.5v-12.9h1v12.9zM350 454.5v-14.8h1v14.8zM353 454.5v-13.5h1v13.5zM356 454.5v-12.6h1v12.6zM358 454.5v-12.7h1v12.7zM361 454.5v-13.3h1v13.3zM364 454.5v-14.0h1v14.0zM366 454.5v-14.8h1v14.8zM369 454.5v-12.5h1v12.5zM372 454.5v-13.2h1v13.2zM374 454.5v-18.7h1v18.7zM377 454.5v-23.2h1v23.2zM380 454.5v-13.8h1v13.8zM382 454.5v-13.5h1v13.5zM385 454.5v-25.0h1v25.0zM388 454.5v-19.0h1v19.0zM390 454.5v-16.0h1v16.0zM393 454.5v-15.9h1v15.9zM396 454.5v-15.5h1v15.5zM398 454.5v-16.3h1v16.3zM401 454.5v-16.1h1v16.1zM404 454.5v-22.1h1v22.1zM407 454.5v-13.9h1v13.9zM409 454.5v-16.1h1v16.1zM412 454.5v-15.5h1v15.5zM415 454.5v-13.5h1v13.5zM417 454.5v-15.3h1v15.3zM420 454.5v-36.1h1v36.1zM423 454.5v-14.5h1v14.5zM425 454.5v-14.3h1v14.3zM428 454.5v-8.9h1v8.9zM431 454.5v-13.4h1v13.4zM433 454.5v-14.2h1v14.2zM436 454.5v-14.4h1v14.4zM439 454.5v-16.2h1v16.2zM441 454.5v-13.7h1v13.7zM444 454.5v-16.2h1v16.2zM447 454.5v-14.0h1v14.0zM449 454.5v-14.4h1v14.4zM452 454.5v-15.8h1v15.8zM455 454.5v-20.1h1v20.1zM457 454.5v-21.2h1v21.2zM460 454.5v-21.2h1v21.2zM463 454.5v-23.2h1v23.2zM465 454.5v-22.3h1v22.3zM468 454.5v-68.0h1v68.0zM471 454.5v-12.3h1v12.3zM474 454.5v-6.7h1v6.7zM476 454.5v-9.4h1v9.4zM479 454.5v-11.1h1v11.1zM482 454.5v-15.9h1v15.9zM484 454.5v-17.1h1v17.1zM487 454.5v-16.9h1v16.9zM490 454.5v-14.8h1v14.8zM492 454.5v-14.8h1v14.8zM495 454.5v-14.9h1v14.9zM498 454.5v-17.4h1v17.4zM500 454.5v-15.5h1v15.5zM503 454.5v-16.9h1v16.9zM506 454.5v-17.3h1v17.3zM508 454.5v-23.2h1v23.2zM511 454.5v-15.5h1v15.5zM514 454.5v-20.1h1v20.1zM516 454.5v-16.5h1v16.5zM519 454.5v-15.5h1v15.5zM522 454.5v-16.8h1v16.8zM524 454.5v-15.6h1v15.6zM527 454.5v-26.5h1v26.5zM530 454.5v-14.7h1v14.7zM532 454.5v-16.9h1v16.9zM535 454.5v-17.4h1v17.4zM538 454.5v-24.1h1v24.1zM540 454.5v-19.0h1v19.0zM543 454.5v-16.8h1v16.8zM546 454.5v-17.4h1v17.4zM549 454.5v-18.1h1v18.1zM551 454.5v-19.5h1v19.5zM554 454.5v-19.5h1v19.5zM557 454.5v-17.8h1v17.8zM559 454.5v-17.5h1v17.5zM562 454.5v-18.0h1v18.0zM565 454.5v-18.2h1v18.2zM567 454.5v-19.4h1v19.4zM570 454.5v-17.3h1v17.3zM573 454.5v-19.1h1v19.1zM575 454.5v-22.3h1v22.3zM578 454.5v-19.1h1v19.1zM581 454.5v-19.0h1v19.0zM583 454.5v-18.5h1v18.5zM586 454.5v-17.7h1v17.7zM589 454.5v-35.7h1v35.7zM591 454.5v-20.1h1v20.1zM594 454.5v-26.5h1v26.5zM597 454.5v-18.1h1v18.1zM599 454.5v-20.1h1v20.1zM602 454.5v-20.5h1v20.5zM605 454.5v-26.5h1v26.5zM607 454.5v-25.6h1v25.6zM610 454.5v-17.9h1v17.9zM613 454.5v-19.4h1v19.4zM615 454.5v-18.8h1v18.8zM618 454.5v-20.7h1v20.7zM621 454.5v-20.4h1v20.4zM624 454.5v-20.7h1v20.7zM626 454.5v-18.6h1v18.6zM629 454.5v-75.8h1v75.8zM632 454.5v-18.1h1v18.1zM634 454.5v-19.3h1v19.3zM637 454.5v-19.9h1v19.9zM640 454.5v-19.1h1v19.1zM642 454.5v-18.5h1v18.5zM645 454.5v-27.9h1v27.9zM648 454.5v-19.6h1v19.6zM650 454.5v-19.8h1v19.8zM653 454.5v-29.2h1v29.2zM656 454.5v-37.2h1v37.2zM658 454.5v-40.4h1v40.4zM661 454.5v-30.6h1v30.6zM664 454.5v-42.6h1v42.6zM666 454.5v-29.2h1v29.2zM669 454.5v-22.2h1v22.2z" fill="#566c94"/>
<polyline fill="none" stroke="#e8e8e8" stroke-width="1.2" stroke-linejoin="round" points="2.0,439.8 4.7,439.9 7.4,440.0 10.0,439.9 12.7,439.6 15.4,439.7 18.1,439.7 20.8,439.8 23.4,439.8 26.1,439.8 28.8,439.8 31.5,439.5 34.1,439.2 36.8,439.2 39.5,439.3 42.2,439.4 44.9,439.4 47.5,439.4 50.2,439.4 52.9,439.7 55.6,439.8 58.3,439.7 60.9,439.5 63.6,439.6 66.3,439.7 69.0,439.8 71.7,440.2 74.3,440.6 77.0,440.7 79.7,440.7 82.4,440.7 85.0,440.6 87.7,440.5 90.4,438.9 93.1,439.0 95.8,438.9 98.4,439.0 101.1,439.1 103.8,439.1 106.5,439.2 109.2,439.1 111.8,439.0 114.5,439.0 117.2,438.9 119.9,438.8 122.6,438.6 125.2,438.6 127.9,435.6 130.6,437.2 133.3,437.2 135.9,437.1 138.6,437.0 141.3,435.4 144.0,435.3 146.7,435.2 149.3,435.5 152.0,435.5 154.7,435.3 157.4,435.3 160.1,435.3 162.7,435.5 165.4,435.5 168.1,438.4 170.8,438.2 173.5,438.0 176.1,437.8 178.8,437.8 181.5,439.3 184.2,439.4 186.9,439.2 189.5,438.7 192.2,438.6 194.9,438.5 197.6,438.4 200.2,437.8 202.9,437.2 205.6,436.6 208.3,436.0 211.0,435.8 213.6,435.6 216.3,435.6 219.0,435.5 221.7,435.5 224.4,435.5 227.0,435.6 229.7,435.6 232.4,435.6 235.1,436.0 237.8,436.3 240.4,437.0 243.1,437.6 245.8,438.4 248.5,439.3 251.1,439.9 253.8,440.4 256.5,440.7 259.2,440.2 261.9,439.9 264.5,439.9 267.2,439.9 269.9,440.0 272.6,440.2 275.3,440.0 277.9,439.7 280.6,439.6 283.3,439.5 286.0,439.4 288.7,439.2 291.3,439.1 294.0,438.9 296.7,435.3 299.4,435.9 302.0,436.1 304.7,436.2 307.4,436.4 310.1,436.4 312.8,436.4 315.4,436.4 318.1,436.6 320.8,436.7 323.5,436.7 326.2,436.7 328.8,436.8 331.5,436.9 334.2,437.0 336.9,440.4 339.6,440.6 342.2,440.8 344.9,440.8 347.6,440.8 350.3,440.8 352.9,440.9 355.6,441.0 358.3,441.0 361.0,441.0 363.7,441.1 366.3,441.0 369.0,441.0 371.7,441.1 374.4,440.7 377.1,440.1 379.7,440.0 382.4,440.0 385.1,439.3 387.8,438.9 390.5,438.8 393.1,438.6 395.8,438.4 398.5,438.2 401.2,438.0 403.8,437.5 406.5,437.5 409.2,437.3 411.9,437.1 414.6,437.5 417.2,438.0 419.9,436.5 422.6,436.5 425.3,437.2 428.0,437.8 430.6,438.0 433.3,438.1 436.0,438.2 438.7,438.2 441.4,438.4 444.0,438.8 446.7,438.7 449.4,438.9 452.1,438.8 454.8,438.4 457.4,438.0 460.1,439.0 462.8,438.4 465.5,437.9 468.1,434.0 470.8,434.0 473.5,434.5 476.2,434.9 478.9,435.2 481.5,435.1 484.2,435.0 486.9,434.8 489.6,434.8 492.3,434.8 494.9,435.2 497.6,435.4 500.3,435.8 503.0,436.2 505.7,436.6 508.3,439.6 511.0,439.3 513.7,438.4 516.4,438.0 519.0,437.7 521.7,437.6 524.4,437.7 527.1,437.1 529.8,437.1 532.4,436.9 535.1,436.8 537.8,436.3 540.5,436.1 543.2,436.1 545.8,436.1 548.5,436.4 551.2,436.2 553.9,436.2 556.6,436.1 559.2,436.0 561.9,435.9 564.6,435.7 567.3,436.2 569.9,436.1 572.6,435.9 575.3,435.6 578.0,435.9 580.7,435.9 583.3,435.8 586.0,435.8 588.7,434.6 591.4,434.6 594.1,434.1 596.7,434.1 599.4,433.9 602.1,433.7 604.8,433.2 607.5,432.8 610.1,432.7 612.8,432.7 615.5,432.9 618.2,432.8 620.8,432.7 623.5,432.6 626.2,432.5 628.9,429.8 631.6,430.0 634.2,430.5 636.9,430.3 639.6,430.4 642.3,430.5 645.0,430.4 647.6,430.8 650.3,430.7 653.0,430.1 655.7,428.8 658.4,427.5 661.0,426.8 663.7,425.4 666.4,424.7 669.1,428.3"/>
<rect x="385" y="267.5" width="179" height="97" rx="3" fill="#0c0c0c" fill-opacity="0.93"/>
<rect x="691" y="99" width="1.3" height="364" fill="#e8e8e8"/>
<rect x="0" y="369" width="736" height="3" fill="#4a4a4a"/>
<rect x="0" y="461.5" width="692" height="1.3" fill="#cfcfcf"/>
<rect x="31" y="462" width="1" height="4" fill="#cfcfcf"/>
<rect x="90" y="462" width="1" height="4" fill="#cfcfcf"/>
<rect x="141" y="462" width="1" height="4" fill="#cfcfcf"/>
<rect x="199" y="462" width="1" height="4" fill="#cfcfcf"/>
<rect x="258" y="462" width="1" height="4" fill="#cfcfcf"/>
<rect x="312" y="462" width="1" height="4" fill="#cfcfcf"/>
<rect x="374" y="462" width="1" height="4" fill="#cfcfcf"/>
<rect x="427" y="462" width="1" height="4" fill="#cfcfcf"/>
<rect x="483" y="462" width="1" height="4" fill="#cfcfcf"/>
<rect x="537" y="462" width="1" height="4" fill="#cfcfcf"/>
<rect x="588" y="462" width="1" height="4" fill="#cfcfcf"/>
<rect x="644" y="462" width="1" height="4" fill="#cfcfcf"/>
<rect x="483.5" y="474.5" width="1.6" height="12" fill="#8a8a8a"/>
<path d="M692 355.3v-3.2l6.5 3.2l-6.5 3.2z" fill="#f0f0f0"/>
<rect x="692" y="339.7" width="3" height="1" fill="#d0d0d0"/>
<path d="M692 325.1v-3.2l6.5 3.2l-6.5 3.2z" fill="#f0f0f0"/>
<rect x="692" y="309.4" width="3" height="1" fill="#d0d0d0"/>
<path d="M692 294.8v-3.2l6.5 3.2l-6.5 3.2z" fill="#f0f0f0"/>
<rect x="692" y="279.2" width="3" height="1" fill="#d0d0d0"/>
<path d="M692 264.5v-3.2l6.5 3.2l-6.5 3.2z" fill="#f0f0f0"/>
<rect x="692" y="248.9" width="3" height="1" fill="#d0d0d0"/>
<path d="M692 234.3v-3.2l6.5 3.2l-6.5 3.2z" fill="#f0f0f0"/>
<rect x="692" y="218.6" width="3" height="1" fill="#d0d0d0"/>
<path d="M692 204.0v-3.2l6.5 3.2l-6.5 3.2z" fill="#f0f0f0"/>
<rect x="692" y="188.4" width="3" height="1" fill="#d0d0d0"/>
<path d="M692 173.8v-3.2l6.5 3.2l-6.5 3.2z" fill="#f0f0f0"/>
<rect x="692" y="158.1" width="3" height="1" fill="#d0d0d0"/>
<path d="M692 143.5v-3.2l6.5 3.2l-6.5 3.2z" fill="#f0f0f0"/>
<rect x="692" y="127.9" width="3" height="1" fill="#d0d0d0"/>
<path d="M692 113.2v-3.2l6.5 3.2l-6.5 3.2z" fill="#f0f0f0"/>
<path d="M692 454.5v-3.2l6.5 3.2l-6.5 3.2z" fill="#f0f0f0"/>
<rect x="692" y="442.9" width="3" height="1" fill="#d0d0d0"/>
<rect x="692" y="431.7" width="3" height="1" fill="#d0d0d0"/>
<rect x="692" y="420.6" width="3" height="1" fill="#d0d0d0"/>
<path d="M692 409.9v-3.2l6.5 3.2l-6.5 3.2z" fill="#f0f0f0"/>
<rect x="692" y="398.2" width="3" height="1" fill="#d0d0d0"/>
<path d="M692 387.6v-3.2l6.5 3.2l-6.5 3.2z" fill="#f0f0f0"/>
<path d="M693.2 181.7l6 -6.5H736v13.0H699.2z" fill="#d8b400"/>
<path d="M693.2 163.4l6 -6.5H736v13.0H699.2z" fill="#1fb84a"/>
<path d="M693.2 180.0l6 -6.5H736v13.0H699.2z" fill="#ef0c9c"/>
<path d="M693.2 240.9l6 -6.5H736v13.0H699.2z" fill="#f4f4f4"/>
<path d="M693.5 431l6.5-7.2H736v14.6H700z" fill="#7e95bd" stroke="#b9c7e2" stroke-width="1"/>
<rect x="3" y="376.5" width="101" height="22.5" rx="2" fill="#121212" fill-opacity="0.95"/>
<rect x="8.5" y="384.5" width="5" height="5" fill="none" stroke="#9a9a9a" stroke-width="0.8"/><path d="M9.5 387h3M11 385.5v3" stroke="#c8c8c8" stroke-width="0.8"/>
<rect x="16" y="383" width="10" height="10" fill="#7e95bd"/>
<path d="M390.5 281v73h3M390.5 291h3M390.5 303.5h3M390.5 316.5h3M390.5 329h3M390.5 341.5h3" stroke="#6c6c6c" stroke-width="1" fill="none"/>
<rect x="388" y="276" width="5" height="5" fill="#0c0c0c" stroke="#8a8a8a" stroke-width="0.8"/><path d="M389 278.5h3" stroke="#b8b8b8" stroke-width="0.8"/>
<rect x="395.5" y="273.5" width="9.5" height="9.5" fill="#ffffff"/>
<path d="M398 287h5M400.5 287v8" stroke="#bdbdbd" stroke-width="1" fill="none"/>
<path d="M396 303.5h9M400.5 301.5l2 2l-2 2l-2-2z" stroke="#bdbdbd" stroke-width="1" fill="#bdbdbd"/>
<path d="M398 320.5h5M400.5 320.5v-8" stroke="#bdbdbd" stroke-width="1" fill="none"/>
<rect x="395.5" y="324.5" width="9.5" height="9.5" fill="#ff0fa8"/>
<rect x="395.5" y="337" width="9.5" height="9.5" fill="#17b83a"/>
<rect x="395.5" y="349.5" width="9.5" height="9.5" fill="#f8e400"/>
</svg>
<svg class="a" style="left:0;top:0" width="736" height="530" viewBox="0 0 736 530"><text x="12.00" y="16.00" font-family="Liberation Mono, monospace" font-size="18" font-weight="normal" fill="#f0f0f0" textLength="27.30" lengthAdjust="spacingAndGlyphs" xml:space="preserve">SPX</text>
<text x="65.50" y="16.00" font-family="Liberation Mono, monospace" font-size="18" font-weight="bold" fill="#2fd64b" textLength="71.05" lengthAdjust="spacingAndGlyphs" xml:space="preserve">5363.36</text>
<text x="150.00" y="16.00" font-family="Liberation Mono, monospace" font-size="18" font-weight="normal" fill="#2fd64b" textLength="53.70" lengthAdjust="spacingAndGlyphs" xml:space="preserve">+95.31</text>
<text x="327.75" y="16.00" font-family="Liberation Mono, monospace" font-size="18" font-weight="normal" fill="#f0f0f0" textLength="63.70" lengthAdjust="spacingAndGlyphs" xml:space="preserve">5268.64</text>
<text x="397.70" y="16.00" font-family="Liberation Mono, monospace" font-size="18" font-weight="normal" fill="#9a9a9a" textLength="9.10" lengthAdjust="spacingAndGlyphs" xml:space="preserve">/</text>
<text x="412.50" y="16.00" font-family="Liberation Mono, monospace" font-size="18" font-weight="normal" fill="#f0f0f0" textLength="63.70" lengthAdjust="spacingAndGlyphs" xml:space="preserve">5458.37</text>
<text x="41.80" y="35.80" font-family="Liberation Mono, monospace" font-size="18" font-weight="normal" fill="#f29a2e" textLength="9.10" lengthAdjust="spacingAndGlyphs" xml:space="preserve">O</text>
<text x="65.40" y="35.80" font-family="Liberation Mono, monospace" font-size="18" font-weight="normal" fill="#9a9a9a" textLength="72.80" lengthAdjust="spacingAndGlyphs" xml:space="preserve">11-Apr d</text>
<text x="153.55" y="35.80" font-family="Liberation Mono, monospace" font-size="18" font-weight="normal" fill="#f29a2e" textLength="9.10" lengthAdjust="spacingAndGlyphs" xml:space="preserve">O</text>
<text x="170.00" y="35.80" font-family="Liberation Mono, monospace" font-size="18" font-weight="normal" fill="#f0f0f0" textLength="63.70" lengthAdjust="spacingAndGlyphs" xml:space="preserve">5255.56</text>
<text x="244.10" y="35.80" font-family="Liberation Mono, monospace" font-size="18" font-weight="normal" fill="#f29a2e" textLength="9.10" lengthAdjust="spacingAndGlyphs" xml:space="preserve">H</text>
<text x="259.50" y="35.80" font-family="Liberation Mono, monospace" font-size="18" font-weight="normal" fill="#f0f0f0" textLength="63.70" lengthAdjust="spacingAndGlyphs" xml:space="preserve">5381.46</text>
<text x="333.60" y="35.80" font-family="Liberation Mono, monospace" font-size="18" font-weight="normal" fill="#f29a2e" textLength="9.10" lengthAdjust="spacingAndGlyphs" xml:space="preserve">L</text>
<text x="348.25" y="35.80" font-family="Liberation Mono, monospace" font-size="18" font-weight="normal" fill="#f0f0f0" textLength="63.70" lengthAdjust="spacingAndGlyphs" xml:space="preserve">5220.77</text>
<text x="420.85" y="35.80" font-family="Liberation Mono, monospace" font-size="18" font-weight="normal" fill="#f29a2e" textLength="36.40" lengthAdjust="spacingAndGlyphs" xml:space="preserve">Prev</text>
<text x="465.00" y="35.80" font-family="Liberation Mono, monospace" font-size="18" font-weight="normal" fill="#f0f0f0" textLength="63.70" lengthAdjust="spacingAndGlyphs" xml:space="preserve">5268.05</text>
<text x="3.15" y="56.00" font-family="Liberation Sans, sans-serif" font-size="15" font-weight="normal" fill="#1a1204" textLength="73.05" lengthAdjust="spacingAndGlyphs" xml:space="preserve">SPX Index</text>
<text x="150.65" y="55.80" font-family="Liberation Sans, sans-serif" font-size="15" font-weight="normal" fill="#dcbcc4" stroke="#dcbcc4" stroke-width="0.3" textLength="14.20" lengthAdjust="spacingAndGlyphs" xml:space="preserve">94)</text>
<text x="168.90" y="55.80" font-family="Liberation Sans, sans-serif" font-size="15.5" font-weight="normal" fill="#fff" stroke="#fff" stroke-width="0.3" textLength="117.70" lengthAdjust="spacingAndGlyphs" xml:space="preserve">Suggested Charts</text>
<text x="311.40" y="55.80" font-family="Liberation Sans, sans-serif" font-size="15" font-weight="normal" fill="#dcbcc4" stroke="#dcbcc4" stroke-width="0.3" textLength="15.20" lengthAdjust="spacingAndGlyphs" xml:space="preserve">96)</text>
<text x="329.90" y="55.80" font-family="Liberation Sans, sans-serif" font-size="15.5" font-weight="normal" fill="#fff" stroke="#fff" stroke-width="0.3" textLength="48.70" lengthAdjust="spacingAndGlyphs" xml:space="preserve">Actions</text>
<text x="403.15" y="55.80" font-family="Liberation Sans, sans-serif" font-size="15" font-weight="normal" fill="#dcbcc4" stroke="#dcbcc4" stroke-width="0.3" textLength="14.95" lengthAdjust="spacingAndGlyphs" xml:space="preserve">97)</text>
<text x="421.90" y="55.80" font-family="Liberation Sans, sans-serif" font-size="15.5" font-weight="normal" fill="#fff" stroke="#fff" stroke-width="0.3" textLength="24.95" lengthAdjust="spacingAndGlyphs" xml:space="preserve">Edit</text>
<text x="639.40" y="55.80" font-family="Liberation Sans, sans-serif" font-size="15.5" font-weight="normal" fill="#fff" stroke="#fff" stroke-width="0.3" textLength="86.95" lengthAdjust="spacingAndGlyphs" xml:space="preserve">Candle Chart</text>
<text x="4.15" y="78.20" font-family="Liberation Sans, sans-serif" font-size="13" font-weight="normal" fill="#1a1204" textLength="68.95" lengthAdjust="spacingAndGlyphs" xml:space="preserve">04/13/2024</text>
<text x="90.70" y="77.50" font-family="Liberation Sans, sans-serif" font-size="13" font-weight="normal" fill="#ffa227" textLength="4.10" lengthAdjust="spacingAndGlyphs" xml:space="preserve">-</text>
<text x="100.90" y="78.20" font-family="Liberation Sans, sans-serif" font-size="13" font-weight="normal" fill="#1a1204" textLength="68.70" lengthAdjust="spacingAndGlyphs" xml:space="preserve">04/14/2025</text>
<text x="190.00" y="78.20" font-family="Liberation Sans, sans-serif" font-size="13" font-weight="normal" fill="#1a1204" textLength="43.10" lengthAdjust="spacingAndGlyphs" xml:space="preserve">Last Px</text>
<text x="277.30" y="78.20" font-family="Liberation Sans, sans-serif" font-size="13" font-weight="normal" fill="#1a1204" textLength="54.90" lengthAdjust="spacingAndGlyphs" xml:space="preserve">Local CCY</text>
<text x="377.50" y="78.20" font-family="Liberation Sans, sans-serif" font-size="13" font-weight="normal" fill="#ffa227" stroke="#ffa227" stroke-width="0.3" textLength="53.10" lengthAdjust="spacingAndGlyphs" xml:space="preserve">Mov Avgs</text>
<text x="468.15" y="78.20" font-family="Liberation Sans, sans-serif" font-size="13" font-weight="normal" fill="#ffa227" stroke="#ffa227" stroke-width="0.3" textLength="64.20" lengthAdjust="spacingAndGlyphs" xml:space="preserve">Key Events</text>
<text x="8.20" y="95.10" font-family="Liberation Sans, sans-serif" font-size="11.5" font-weight="normal" fill="#fff" stroke="#fff" stroke-width="0.32" textLength="13.80" lengthAdjust="spacingAndGlyphs" xml:space="preserve">1D</text>
<text x="36.30" y="95.10" font-family="Liberation Sans, sans-serif" font-size="11.5" font-weight="normal" fill="#fff" stroke="#fff" stroke-width="0.32" textLength="13.05" lengthAdjust="spacingAndGlyphs" xml:space="preserve">3D</text>
<text x="65.00" y="95.10" font-family="Liberation Sans, sans-serif" font-size="11.5" font-weight="normal" fill="#fff" stroke="#fff" stroke-width="0.32" textLength="14.35" lengthAdjust="spacingAndGlyphs" xml:space="preserve">1M</text>
<text x="93.40" y="95.10" font-family="Liberation Sans, sans-serif" font-size="11.5" font-weight="normal" fill="#fff" stroke="#fff" stroke-width="0.32" textLength="14.95" lengthAdjust="spacingAndGlyphs" xml:space="preserve">6M</text>
<text x="122.80" y="95.10" font-family="Liberation Sans, sans-serif" font-size="11.5" font-weight="normal" fill="#fff" stroke="#fff" stroke-width="0.32" textLength="19.90" lengthAdjust="spacingAndGlyphs" xml:space="preserve">YTD</text>
<text x="157.80" y="95.10" font-family="Liberation Sans, sans-serif" font-size="11.5" font-weight="normal" fill="#fff" stroke="#fff" stroke-width="0.32" textLength="12.40" lengthAdjust="spacingAndGlyphs" xml:space="preserve">1Y</text>
<text x="185.00" y="95.10" font-family="Liberation Sans, sans-serif" font-size="11.5" font-weight="normal" fill="#fff" stroke="#fff" stroke-width="0.32" textLength="12.50" lengthAdjust="spacingAndGlyphs" xml:space="preserve">5Y</text>
<text x="212.50" y="95.10" font-family="Liberation Sans, sans-serif" font-size="11.5" font-weight="normal" fill="#fff" stroke="#fff" stroke-width="0.32" textLength="20.20" lengthAdjust="spacingAndGlyphs" xml:space="preserve">Max</text>
<text x="245.00" y="95.10" font-family="Liberation Sans, sans-serif" font-size="11.5" font-weight="normal" fill="#fff" stroke="#fff" stroke-width="0.32" textLength="27.20" lengthAdjust="spacingAndGlyphs" xml:space="preserve">Daily</text>
<text x="376.90" y="95.10" font-family="Liberation Sans, sans-serif" font-size="11.5" font-weight="normal" fill="#fff" stroke="#fff" stroke-width="0.32" textLength="27.70" lengthAdjust="spacingAndGlyphs" xml:space="preserve">Table</text>
<text x="439.40" y="95.10" font-family="Liberation Sans, sans-serif" font-size="11.5" font-weight="normal" fill="#fff" stroke="#fff" stroke-width="0.32" textLength="65.20" lengthAdjust="spacingAndGlyphs" xml:space="preserve">Related Data</text>
<text x="660.40" y="95.10" font-family="Liberation Sans, sans-serif" font-size="11.5" font-weight="normal" fill="#fff" stroke="#fff" stroke-width="0.32" textLength="51.20" lengthAdjust="spacingAndGlyphs" xml:space="preserve">Edit Chart</text>
<text x="531.15" y="95.50" font-family="Liberation Sans, sans-serif" font-size="13" font-weight="normal" fill="#9c6a20" textLength="50.45" lengthAdjust="spacingAndGlyphs" xml:space="preserve">Add Data</text>
<text x="407.30" y="283.00" font-family="Liberation Sans, sans-serif" font-size="11" font-weight="normal" fill="#f2f2f2" textLength="50.00" lengthAdjust="spacingAndGlyphs" xml:space="preserve">Last Price</text>
<text x="521.90" y="283.00" font-family="Liberation Sans, sans-serif" font-size="11" font-weight="normal" fill="#f2f2f2" textLength="36.80" lengthAdjust="spacingAndGlyphs" xml:space="preserve">5363.36</text>
<text x="407.30" y="295.70" font-family="Liberation Sans, sans-serif" font-size="11" font-weight="normal" fill="#f2f2f2" textLength="84.30" lengthAdjust="spacingAndGlyphs" xml:space="preserve">High on 02/19/25</text>
<text x="521.90" y="295.70" font-family="Liberation Sans, sans-serif" font-size="11" font-weight="normal" fill="#f2f2f2" textLength="36.80" lengthAdjust="spacingAndGlyphs" xml:space="preserve">6147.43</text>
<text x="407.30" y="308.40" font-family="Liberation Sans, sans-serif" font-size="11" font-weight="normal" fill="#f2f2f2" textLength="37.80" lengthAdjust="spacingAndGlyphs" xml:space="preserve">Average</text>
<text x="521.90" y="308.40" font-family="Liberation Sans, sans-serif" font-size="11" font-weight="normal" fill="#f2f2f2" textLength="36.80" lengthAdjust="spacingAndGlyphs" xml:space="preserve">5652.24</text>
<text x="407.30" y="321.10" font-family="Liberation Sans, sans-serif" font-size="11" font-weight="normal" fill="#f2f2f2" textLength="81.70" lengthAdjust="spacingAndGlyphs" xml:space="preserve">Low on 04/07/25</text>
<text x="521.90" y="321.10" font-family="Liberation Sans, sans-serif" font-size="11" font-weight="normal" fill="#f2f2f2" textLength="36.80" lengthAdjust="spacingAndGlyphs" xml:space="preserve">4835.04</text>
<text x="407.30" y="333.80" font-family="Liberation Sans, sans-serif" font-size="11" font-weight="normal" fill="#f2f2f2" textLength="104.90" lengthAdjust="spacingAndGlyphs" xml:space="preserve">SMAVG (50)  on Close</text>
<text x="521.90" y="333.80" font-family="Liberation Sans, sans-serif" font-size="11" font-weight="normal" fill="#f2f2f2" textLength="36.80" lengthAdjust="spacingAndGlyphs" xml:space="preserve">5760.95</text>
<text x="407.30" y="346.50" font-family="Liberation Sans, sans-serif" font-size="11" font-weight="normal" fill="#f2f2f2" textLength="110.10" lengthAdjust="spacingAndGlyphs" xml:space="preserve">SMAVG (100)  on Close</text>
<text x="521.90" y="346.50" font-family="Liberation Sans, sans-serif" font-size="11" font-weight="normal" fill="#f2f2f2" textLength="36.80" lengthAdjust="spacingAndGlyphs" xml:space="preserve">5873.83</text>
<text x="407.30" y="359.20" font-family="Liberation Sans, sans-serif" font-size="11" font-weight="normal" fill="#f2f2f2" textLength="110.10" lengthAdjust="spacingAndGlyphs" xml:space="preserve">SMAVG (200)  on Close</text>
<text x="521.90" y="359.20" font-family="Liberation Sans, sans-serif" font-size="11" font-weight="normal" fill="#f2f2f2" textLength="36.80" lengthAdjust="spacingAndGlyphs" xml:space="preserve">5754.26</text>
<text x="28.90" y="392.00" font-family="Liberation Sans, sans-serif" font-size="11" font-weight="normal" fill="#f2f2f2" textLength="70.70" lengthAdjust="spacingAndGlyphs" xml:space="preserve">Volume 0.995B</text>
<text x="699.00" y="359.62" font-family="Liberation Sans, sans-serif" font-size="12" font-weight="normal" fill="#e6e6e6" textLength="22.60" lengthAdjust="spacingAndGlyphs" xml:space="preserve">4600</text>
<text x="699.00" y="329.36" font-family="Liberation Sans, sans-serif" font-size="12" font-weight="normal" fill="#e6e6e6" textLength="22.60" lengthAdjust="spacingAndGlyphs" xml:space="preserve">4800</text>
<text x="699.00" y="299.10" font-family="Liberation Sans, sans-serif" font-size="12" font-weight="normal" fill="#e6e6e6" textLength="22.60" lengthAdjust="spacingAndGlyphs" xml:space="preserve">5000</text>
<text x="699.00" y="268.84" font-family="Liberation Sans, sans-serif" font-size="12" font-weight="normal" fill="#e6e6e6" textLength="22.60" lengthAdjust="spacingAndGlyphs" xml:space="preserve">5200</text>
<text x="699.00" y="238.58" font-family="Liberation Sans, sans-serif" font-size="12" font-weight="normal" fill="#e6e6e6" textLength="22.60" lengthAdjust="spacingAndGlyphs" xml:space="preserve">5400</text>
<text x="699.00" y="208.32" font-family="Liberation Sans, sans-serif" font-size="12" font-weight="normal" fill="#e6e6e6" textLength="22.60" lengthAdjust="spacingAndGlyphs" xml:space="preserve">5600</text>
<text x="699.00" y="178.06" font-family="Liberation Sans, sans-serif" font-size="12" font-weight="normal" fill="#e6e6e6" textLength="22.60" lengthAdjust="spacingAndGlyphs" xml:space="preserve">5800</text>
<text x="699.00" y="147.80" font-family="Liberation Sans, sans-serif" font-size="12" font-weight="normal" fill="#e6e6e6" textLength="22.60" lengthAdjust="spacingAndGlyphs" xml:space="preserve">6000</text>
<text x="699.00" y="117.54" font-family="Liberation Sans, sans-serif" font-size="12" font-weight="normal" fill="#e6e6e6" textLength="22.60" lengthAdjust="spacingAndGlyphs" xml:space="preserve">6200</text>
<text x="699.00" y="458.80" font-family="Liberation Sans, sans-serif" font-size="12" font-weight="normal" fill="#e6e6e6" textLength="6.60" lengthAdjust="spacingAndGlyphs" xml:space="preserve">0</text>
<text x="699.00" y="414.20" font-family="Liberation Sans, sans-serif" font-size="12" font-weight="normal" fill="#e6e6e6" textLength="13.10" lengthAdjust="spacingAndGlyphs" xml:space="preserve">2B</text>
<text x="699.00" y="391.90" font-family="Liberation Sans, sans-serif" font-size="12" font-weight="normal" fill="#e6e6e6" textLength="13.10" lengthAdjust="spacingAndGlyphs" xml:space="preserve">3B</text>
<text x="697.80" y="167.59" font-family="Liberation Sans, sans-serif" font-size="11.5" font-weight="normal" fill="#fff" textLength="36.80" lengthAdjust="spacingAndGlyphs" xml:space="preserve">5873.83</text>
<text x="697.80" y="184.17" font-family="Liberation Sans, sans-serif" font-size="11.5" font-weight="normal" fill="#fff" textLength="36.80" lengthAdjust="spacingAndGlyphs" xml:space="preserve">5760.95</text>
<text x="697.80" y="245.12" font-family="Liberation Sans, sans-serif" font-size="11.5" font-weight="normal" fill="#16223a" textLength="36.80" lengthAdjust="spacingAndGlyphs" xml:space="preserve">5363.36</text>
<text x="698.20" y="435.30" font-family="Liberation Sans, sans-serif" font-size="11.5" font-weight="normal" fill="#10141c" textLength="31.90" lengthAdjust="spacingAndGlyphs" xml:space="preserve">0.995B</text>
<text x="51.27" y="474.30" font-family="Liberation Sans, sans-serif" font-size="11" font-weight="normal" fill="#e6e6e6" textLength="18.80" lengthAdjust="spacingAndGlyphs" xml:space="preserve">May</text>
<text x="106.74" y="474.30" font-family="Liberation Sans, sans-serif" font-size="11" font-weight="normal" fill="#e6e6e6" textLength="17.70" lengthAdjust="spacingAndGlyphs" xml:space="preserve">Jun</text>
<text x="162.91" y="474.30" font-family="Liberation Sans, sans-serif" font-size="11" font-weight="normal" fill="#e6e6e6" textLength="15.20" lengthAdjust="spacingAndGlyphs" xml:space="preserve">Jul</text>
<text x="220.34" y="474.30" font-family="Liberation Sans, sans-serif" font-size="11" font-weight="normal" fill="#e6e6e6" textLength="18.20" lengthAdjust="spacingAndGlyphs" xml:space="preserve">Aug</text>
<text x="276.60" y="474.30" font-family="Liberation Sans, sans-serif" font-size="11" font-weight="normal" fill="#e6e6e6" textLength="18.20" lengthAdjust="spacingAndGlyphs" xml:space="preserve">Sep</text>
<text x="334.70" y="474.30" font-family="Liberation Sans, sans-serif" font-size="11" font-weight="normal" fill="#e6e6e6" textLength="17.20" lengthAdjust="spacingAndGlyphs" xml:space="preserve">Oct</text>
<text x="391.80" y="474.30" font-family="Liberation Sans, sans-serif" font-size="11" font-weight="normal" fill="#e6e6e6" textLength="18.20" lengthAdjust="spacingAndGlyphs" xml:space="preserve">Nov</text>
<text x="446.72" y="474.30" font-family="Liberation Sans, sans-serif" font-size="11" font-weight="normal" fill="#e6e6e6" textLength="18.20" lengthAdjust="spacingAndGlyphs" xml:space="preserve">Dec</text>
<text x="502.14" y="474.30" font-family="Liberation Sans, sans-serif" font-size="11" font-weight="normal" fill="#e6e6e6" textLength="17.20" lengthAdjust="spacingAndGlyphs" xml:space="preserve">Jan</text>
<text x="554.13" y="474.30" font-family="Liberation Sans, sans-serif" font-size="11" font-weight="normal" fill="#e6e6e6" textLength="17.70" lengthAdjust="spacingAndGlyphs" xml:space="preserve">Feb</text>
<text x="607.71" y="474.30" font-family="Liberation Sans, sans-serif" font-size="11" font-weight="normal" fill="#e6e6e6" textLength="17.70" lengthAdjust="spacingAndGlyphs" xml:space="preserve">Mar</text>
<text x="665.24" y="474.30" font-family="Liberation Sans, sans-serif" font-size="11" font-weight="normal" fill="#e6e6e6" textLength="17.20" lengthAdjust="spacingAndGlyphs" xml:space="preserve">Apr</text>
<text x="231.10" y="487.00" font-family="Liberation Sans, sans-serif" font-size="11.5" font-weight="normal" fill="#c4c8d4" textLength="22.50" lengthAdjust="spacingAndGlyphs" xml:space="preserve">2024</text>
<text x="576.40" y="487.00" font-family="Liberation Sans, sans-serif" font-size="11.5" font-weight="normal" fill="#c4c8d4" textLength="22.20" lengthAdjust="spacingAndGlyphs" xml:space="preserve">2025</text>
<text x="74.70" y="493.70" font-family="Liberation Mono, monospace" font-size="8.6" font-weight="normal" fill="#f4f4f4" stroke="#f4f4f4" stroke-width="0.3" textLength="585.00" lengthAdjust="spacingAndGlyphs" xml:space="preserve">Australia 61 2 9777 8600 Brazil 5511 2395 9000 Europe 44 20 7330 7500 Germany 49 69 9204 1210 Hong Kong 852 2977 6000</text>
<text x="74.70" y="503.70" font-family="Liberation Mono, monospace" font-size="8.6" font-weight="normal" fill="#f4f4f4" stroke="#f4f4f4" stroke-width="0.3" textLength="585.00" lengthAdjust="spacingAndGlyphs" xml:space="preserve">Japan 81 3 4565 8900      Singapore 65 6212 1000      U.S. 1 212 318 2000       Copyright 2025 Bloomberg Finance L.P.</text>
<text x="448.70" y="513.70" font-family="Liberation Mono, monospace" font-size="8.6" font-weight="normal" fill="#f4f4f4" stroke="#f4f4f4" stroke-width="0.3" textLength="280.00" lengthAdjust="spacingAndGlyphs" xml:space="preserve">SN 3379190 EDT  GMT-4:00 ba1364-173 13-Apr-2025 09:07:15</text></svg>
</body></html>
